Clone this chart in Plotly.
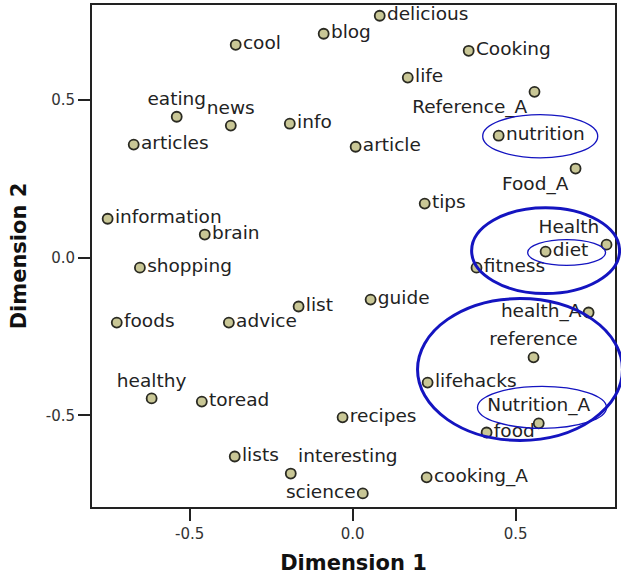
import plotly.graph_objects as go

labels = ["cool", "eating", "news", "info", "articles", "information", "brain", "shopping",
          "delicious", "blog", "Cooking", "life", "Reference_A", "nutrition", "article",
          "Food_A", "tips", "Health", "diet", "fitness", "foods", "advice", "list",
          "healthy", "toread", "lists", "interesting", "science", "guide", "health_A",
          "reference", "lifehacks", "recipes", "Nutrition_A", "food", "cooking_A"]
dim1 = [-0.359, -0.540, -0.374, -0.193, -0.672, -0.752, -0.454, -0.653,
        0.083, -0.089, 0.356, 0.169, 0.558, 0.448, 0.009,
        0.684, 0.221, 0.779, 0.592, 0.380, -0.724, -0.380, -0.166,
        -0.617, -0.463, -0.362, -0.190, 0.031, 0.055, 0.724,
        0.555, 0.230, -0.031, 0.571, 0.411, 0.227]
dim2 = [0.674, 0.446, 0.418, 0.424, 0.358, 0.123, 0.073, -0.032,
        0.766, 0.709, 0.655, 0.570, 0.525, 0.386, 0.351,
        0.282, 0.171, 0.041, 0.019, -0.032, -0.206, -0.206, -0.155,
        -0.446, -0.456, -0.630, -0.684, -0.747, -0.133, -0.174,
        -0.316, -0.396, -0.506, -0.525, -0.554, -0.696]
label_pos = {"eating": "top center", "news": "top center", "Reference_A": "bottom left",
             "Food_A": "bottom left", "Health": "top left", "healthy": "top center",
             "interesting": "top right", "science": "middle left", "health_A": "middle left",
             "reference": "top center", "Nutrition_A": "top center"}
positions = [label_pos.get(l, "middle right") for l in labels]

x_ticks = [-0.5, 0.0, 0.5]
y_ticks = [-0.5, 0.0, 0.5]
tick_text = ["-0.5", "0.0", "0.5"]
x_range = [-0.80, 0.805]
y_range = [-0.79, 0.80]

# hand-drawn ellipses (x0, x1, y0, y1, line width) in data units
ellipses = [
    (0.399, 0.752, 0.316, 0.453, 1.3),
    (0.365, 0.819, -0.114, 0.158, 3),
    (0.537, 0.776, -0.025, 0.057, 1.3),
    (0.199, 0.828, -0.579, -0.130, 3),
    (0.383, 0.779, -0.541, -0.408, 1.3),
]

font = "DejaVu Sans"
fig = go.Figure()
fig.add_trace(go.Scatter(
    x=dim1, y=dim2, mode="markers+text", text=labels, textposition=positions,
    textfont=dict(family=font, size=18.5, color="#222"),
    marker=dict(size=10, color="#c9c796", line=dict(color="#2a2a22", width=1.8)),
    hoverinfo="text", showlegend=False, cliponaxis=False,
))

def px(v):
    return (v - x_range[0]) / (x_range[1] - x_range[0])

def py(v):
    return (v - y_range[0]) / (y_range[1] - y_range[0])

for x0, x1, y0, y1, w in ellipses:
    fig.add_shape(type="circle", xref="paper", yref="paper",
                  x0=px(x0), x1=px(x1), y0=py(y0), y1=py(y1),
                  line=dict(color="#1414c0", width=w))

axis_common = dict(showline=True, linecolor="#222", linewidth=2, mirror=True,
                   ticks="outside", ticklen=12, tickwidth=2, tickcolor="#222",
                   showgrid=False, zeroline=False, automargin=False,
                   tickfont=dict(family=font, size=15, color="#333"))
fig.update_xaxes(range=x_range, tickvals=x_ticks, ticktext=tick_text,
                 title=dict(text="Dimension 1", font=dict(family=font, size=21, color="#111", weight="bold"),
                            standoff=13), **axis_common)
fig.update_yaxes(range=y_range, tickvals=y_ticks, ticktext=tick_text,
                 title=dict(text="Dimension 2", font=dict(family=font, size=21, color="#111", weight="bold"),
                            standoff=13), **axis_common)
fig.update_layout(width=621, height=575, margin=dict(l=92, r=6, t=5, b=68),
                  paper_bgcolor="white", plot_bgcolor="white")
fig.write_html("out.html", config={"displayModeBar": False},
               post_script="document.body.style.margin='0';")
